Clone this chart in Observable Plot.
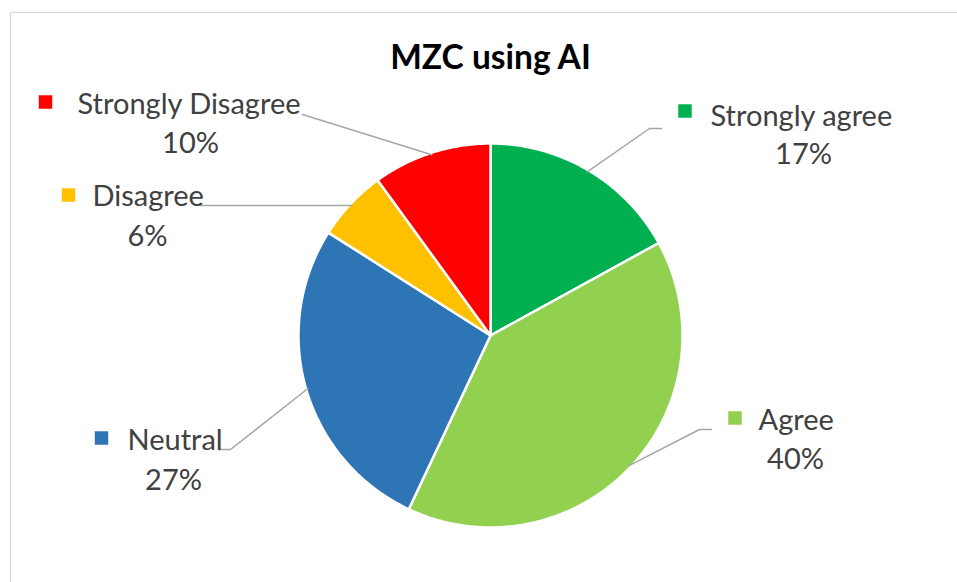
<!DOCTYPE html>
<html><head><meta charset="utf-8">
<script src="https://cdn.jsdelivr.net/npm/d3@7"></script>
<script src="https://cdn.jsdelivr.net/npm/@observablehq/plot@0.6"></script>
<style>
html,body{margin:0;padding:0;background:#fff;overflow:hidden;}
#chart{width:957px;height:582px;}
</style></head><body><div id="chart"></div>
<script>
// ---- data ----
const title = "MZC using AI";
const categories = ["Strongly agree", "Agree", "Neutral", "Disagree", "Strongly Disagree"];
const percents = [17, 40, 27, 6, 10];
const colors = ["#00B050", "#92D050", "#2E75B6", "#FFC000", "#FF0000"];

// ---- layout (pixels) ----
const W = 957, H = 582, CX = 490, CY = 335, R = 192;
const labelLayout = {
  "Strongly agree":    {marker: [684.5, 110.5], name: [710, 116],   pct: [803, 154],   leader: [[649, 128], [661, 128]]},
  "Agree":             {marker: [734.5, 417.5], name: [758, 420],   pct: [795, 459],   leader: [[699, 429], [711, 429]]},
  "Neutral":           {marker: [101, 437.5],   name: [127, 440],   pct: [173, 480],   leader: [[230, 449], [218, 449]]},
  "Disagree":          {marker: [68, 194.5],    name: [92, 196.5],  pct: [147, 236],   leader: [[200, 205]]},
  "Strongly Disagree": {marker: [45, 101.5],    name: [77, 104.5],  pct: [190, 143],   leader: [[302, 114]]}
};
const titlePos = [490, 58];
const ux = px => (px - CX) / R;
const uy = py => (CY - py) / R;

// ---- derived geometry from data ----
const arcs = d3.pie().sort(null).value(d => d.v)(categories.map((k, i) => ({k, v: percents[i]})));
const slicePts = [];
const leaderPts = [];
const labels = [];
arcs.forEach(a => {
  const k = a.data.k;
  slicePts.push({k, x: 0, y: 0});
  const n = Math.max(2, Math.ceil((a.endAngle - a.startAngle) / (Math.PI / 360)));
  for (let j = 0; j <= n; j++) {
    const t = a.startAngle + (a.endAngle - a.startAngle) * j / n;
    slicePts.push({k, x: Math.sin(t), y: Math.cos(t)});
  }
  const mid = (a.startAngle + a.endAngle) / 2;
  const L = labelLayout[k];
  leaderPts.push({k, x: 0.99 * Math.sin(mid), y: 0.99 * Math.cos(mid)});
  L.leader.forEach(p => leaderPts.push({k, x: ux(p[0]), y: uy(p[1])}));
  labels.push({k, pct: Math.round(a.data.v) + "%",
    mx: ux(L.marker[0]), my: uy(L.marker[1]),
    nx: ux(L.name[0]), ny: uy(L.name[1]),
    px: ux(L.pct[0]), py: uy(L.pct[1])});
});

const chart = Plot.plot({
  width: W, height: H, margin: 0,
  style: {fontFamily: "Lato, sans-serif", background: "#fff", overflow: "hidden"},
  x: {domain: [-1, 1], range: [CX - R, CX + R], axis: null},
  y: {domain: [-1, 1], range: [CY + R, CY - R], axis: null},
  color: {domain: categories, range: colors},
  marks: [
    Plot.frame({stroke: "#d9d9d9", strokeWidth: 1.2, insetLeft: 10, insetTop: 12, insetRight: -3, insetBottom: -3}),
    Plot.line(slicePts, {x: "x", y: "y", z: "k", fill: "k", stroke: "white", strokeWidth: 2.5, strokeLinejoin: "round", curve: "linear-closed"}),
    Plot.line(leaderPts, {x: "x", y: "y", z: "k", stroke: "#A6A6A6", strokeWidth: 1.5}),
    Plot.dot(labels, {x: "mx", y: "my", fill: "k", symbol: "square", r: 7.6, stroke: null}),
    Plot.text(labels, {x: "nx", y: "ny", text: "k", textAnchor: "start", lineAnchor: "middle", fontSize: 29, fill: "#404040"}),
    Plot.text(labels, {x: "px", y: "py", text: "pct", textAnchor: "middle", lineAnchor: "middle", fontSize: 29, fill: "#404040"}),
    Plot.text([title], {x: () => ux(titlePos[0]), y: () => uy(titlePos[1]), text: d => d, textAnchor: "middle", lineAnchor: "middle", fontSize: 33.5, fontWeight: "bold", fill: "#000"})
  ]
});
document.getElementById("chart").appendChild(chart);
</script></body></html>
